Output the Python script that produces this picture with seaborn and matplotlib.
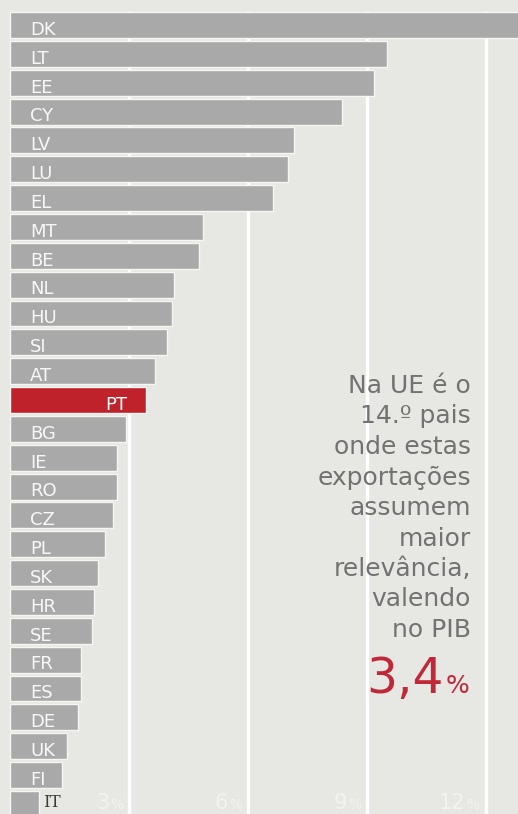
import matplotlib
matplotlib.use("Agg")
import matplotlib.pyplot as plt
import seaborn as sns
import pandas as pd

countries = ["DK", "LT", "EE", "CY", "LV", "LU", "EL", "MT", "BE", "NL", "HU", "SI", "AT", "PT",
             "BG", "IE", "RO", "CZ", "PL", "SK", "HR", "SE", "FR", "ES", "DE", "UK", "FI", "IT"]
values = [13.5, 9.50, 9.17, 8.36, 7.15, 7.02, 6.64, 4.85, 4.75, 4.12, 4.07, 3.94, 3.64, 3.42,
          2.91, 2.70, 2.68, 2.58, 2.38, 2.20, 2.12, 2.07, 1.79, 1.77, 1.71, 1.42, 1.29, 0.71]
highlight = "PT"
outside_label = "IT"
tick_values = [3, 6, 9, 12]
tick_labels = ["3", "6", "9", "12"]
note_lines = ["Na UE é o", "14.º pais", "onde estas", "exportações", "assumem",
              "maior", "relevância,", "valendo", "no PIB"]
note_value = "3,4"

BG = "#e7e7e3"
GRAY = "#a9a9a9"
RED = "#c0222c"

sns.set_style("white")
plt.rcParams["font.family"] = ["DejaVu Sans"]

df = pd.DataFrame({"country": countries, "value": values})
palette = {c: (RED if c == highlight else GRAY) for c in countries}

fig = plt.figure(figsize=(5.18, 8.14), dpi=100, facecolor=BG)
ax = fig.add_axes([0, 0, 1, 1])
ax.set_facecolor(BG)

sns.barplot(data=df, x="value", y="country", hue="country", palette=palette, legend=False,
            orient="h", width=0.9, edgecolor="#f6f6f4", linewidth=1.0, saturation=1,
            ax=ax, zorder=2)

ax.set_xlim(-0.265, 12.816)
ax.set_ylim(27.35, -0.867)
ax.vlines(tick_values, -0.5, 27.6, color="white", linewidth=2.4, zorder=1)

for s in ax.spines.values():
    s.set_visible(False)
ax.set_xticks([])
ax.set_yticks([])
ax.set_xlabel("")
ax.set_ylabel("")

# country labels
for i, (c, v) in enumerate(zip(countries, values)):
    if c == highlight:
        ax.annotate(c, xy=(v, i + 0.34), xytext=(-19, 0), textcoords="offset pixels",
                    ha="right", va="baseline", color="white", fontsize=13, zorder=3)
    elif c == outside_label:
        ax.annotate(c, xy=(v, i + 0.1), xytext=(4, 0), textcoords="offset pixels",
                    ha="left", va="baseline", color="#3a3a3a", fontsize=12,
                    family=["DejaVu Serif"], zorder=3)
    else:
        ax.annotate(c, xy=(0, i + 0.34), xytext=(19.5, 0), textcoords="offset pixels",
                    ha="left", va="baseline", color="#f8f8f8", fontsize=13, zorder=3)

# axis tick labels at bottom
for t, lab in zip(tick_values, tick_labels):
    ax.annotate("%", xy=(t, 5), xycoords=("data", "figure pixels"), xytext=(-6, 0),
                textcoords="offset pixels", ha="right", va="baseline", color="#f3f3f1",
                fontsize=10, zorder=3)
    ax.annotate(lab, xy=(t, 5), xycoords=("data", "figure pixels"), xytext=(-20, 0),
                textcoords="offset pixels", ha="right", va="baseline", color="#f3f3f1",
                fontsize=15, zorder=3)

# note text
W, H = 518, 814
x_right = 471
base0 = 393
step = 30.5
for k, line in enumerate(note_lines):
    fig.text(x_right / W, 1 - (base0 + k * step) / H, line, ha="right", va="baseline",
             color="#727272", fontsize=18)

fig.text(469 / W, 1 - 693 / H, "%", ha="right", va="baseline", color="#c0283a", fontsize=18)
fig.text(444 / W, 1 - 693 / H, note_value, ha="right", va="baseline", color="#c0283a", fontsize=35)

fig.savefig("out.png", dpi=100, facecolor=BG)
